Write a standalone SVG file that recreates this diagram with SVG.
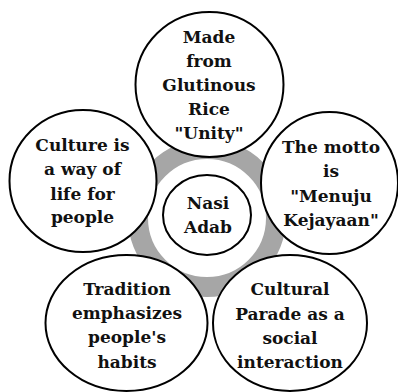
<svg xmlns="http://www.w3.org/2000/svg" width="398" height="392" viewBox="0 0 398 392">
  <style>
    .bubble { fill: #ffffff; stroke: #000000; stroke-width: 2; }
    .label { font-family: "DejaVu Serif", "Liberation Serif", serif; font-weight: bold; font-size: 17px; fill: #111111; text-anchor: middle; }
    .ring { fill: none; stroke: #a6a6a6; stroke-width: 20; }
  </style>
  <rect width="398" height="392" fill="#ffffff"/>

  <!-- gray cycle ring behind the bubbles -->
  <g id="connectors">
    <circle class="ring" cx="207" cy="218" r="69"/>
  </g>

  <g id="node-center">
    <ellipse class="bubble" cx="207" cy="215" rx="44" ry="40"/>
    <text class="label" x="208" y="209">Nasi</text>
    <text class="label" x="208" y="233">Adab</text>
  </g>

  <g id="node-top">
    <ellipse class="bubble" cx="209.5" cy="84.5" rx="74" ry="72.5"/>
    <text class="label" x="209" y="43">Made</text>
    <text class="label" x="209" y="67">from</text>
    <text class="label" x="209" y="91">Glutinous</text>
    <text class="label" x="209" y="115">Rice</text>
    <text class="label" x="209" y="139">"Unity"</text>
  </g>

  <g id="node-left">
    <ellipse class="bubble" cx="83" cy="181" rx="73.5" ry="71"/>
    <text class="label" x="82.5" y="151">Culture is</text>
    <text class="label" x="82.5" y="175">a way of</text>
    <text class="label" x="82.5" y="200">life for</text>
    <text class="label" x="82.5" y="223">people</text>
  </g>

  <g id="node-right">
    <ellipse class="bubble" cx="329.5" cy="183" rx="68.5" ry="71"/>
    <text class="label" x="331" y="153">The motto</text>
    <text class="label" x="331" y="177">is</text>
    <text class="label" x="331" y="202">"Menuju</text>
    <text class="label" x="331" y="226">Kejayaan"</text>
  </g>

  <g id="node-bottom-left">
    <ellipse class="bubble" cx="126.5" cy="323" rx="81" ry="68"/>
    <text class="label" x="127" y="295">Tradition</text>
    <text class="label" x="127" y="319">emphasizes</text>
    <text class="label" x="127" y="343">people's</text>
    <text class="label" x="127" y="368">habits</text>
  </g>

  <g id="node-bottom-right">
    <ellipse class="bubble" cx="290" cy="323" rx="77" ry="68"/>
    <text class="label" x="290" y="295">Cultural</text>
    <text class="label" x="290" y="320">Parade as a</text>
    <text class="label" x="290" y="344">social</text>
    <text class="label" x="290" y="368">interaction</text>
  </g>
</svg>
